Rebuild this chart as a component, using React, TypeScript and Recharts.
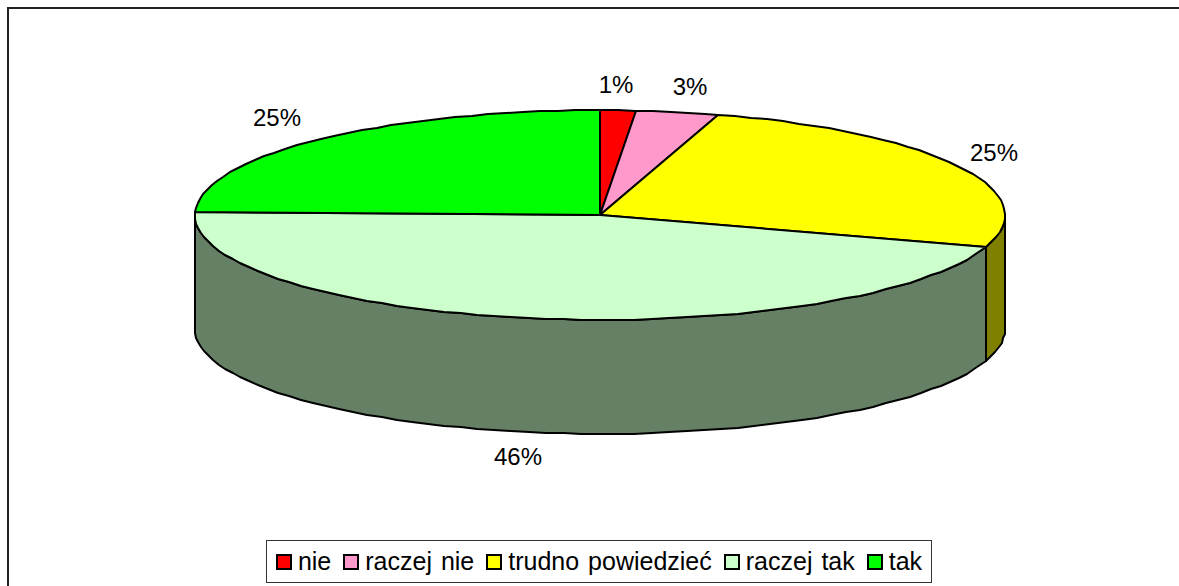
import React from 'react';
import { PieChart, Pie, Cell, Legend } from 'recharts';

const categories = ['nie', 'raczej nie', 'trudno powiedzieć', 'raczej tak', 'tak'];
const shares = [1.4, 3.3, 25.2, 45.52, 24.58];
const colors = ['#FF0000', '#FF99CC', '#FFFF00', '#CCFFCC', '#00FF00'];
const wallColors = ['#800000', '#804C66', '#808000', '#668066', '#008000'];

// label offset from the rim point of each slice (dx, dy)
const labelNudge = [
    [-2, -26],
    [13, -26],
    [35, -14],
    [-15, 138],
    [-40, -23],
];

const data = categories.map((name, i) => ({ name, value: shares[i] }));

const SQUASH = 0.259;
const DEPTH = 114;
const FONT = '"Liberation Sans", Arial, sans-serif';

const rimPoint = (cx: number, cy: number, r: number, deg: number) => {
    const a = (deg * Math.PI) / 180;
    return [Math.round(cx + r * Math.cos(a)), Math.round(cy - r * SQUASH * Math.sin(a))];
};

// angles run clockwise from startAngle to endAngle, sampled coarse so the rim looks faceted
const arcPoints = (cx: number, cy: number, r: number, from: number, to: number) => {
    const pts: number[][] = [];
    const step = 2.5;
    for (let a = from; a > to; a -= step) pts.push(rimPoint(cx, cy, r, a));
    pts.push(rimPoint(cx, cy, r, to));
    return pts;
};

const toPath = (pts: number[][]) => pts.map((p) => p.join(',')).join(' ');

const EllipseSlice = (props: any) => {
    const { cx, cy, outerRadius, startAngle, endAngle, fill, index } = props;
    const rim = arcPoints(cx, cy, outerRadius, startAngle, endAngle);

    // only the front half of the rim (math angles 0 to -180) has a visible wall
    const wallFrom = Math.min(startAngle, 0);
    const wallTo = Math.max(endAngle, -180);
    let wall = null;
    if (wallFrom > wallTo) {
        const top = arcPoints(cx, cy, outerRadius, wallFrom, wallTo);
        const bottom = top.map(([x, y]) => [x, y + DEPTH]).reverse();
        wall = (
            <polygon
                points={toPath([...top, ...bottom])}
                fill={wallColors[index]}
                stroke="#000"
                strokeWidth={2}
                strokeLinejoin="round"
            />
        );
    }

    return (
        <g>
            {wall}
            <polygon
                points={toPath([[cx, cy], ...rim])}
                fill={fill}
                stroke="#000"
                strokeWidth={2}
                strokeLinejoin="round"
            />
        </g>
    );
};

const renderLabel = (props: any) => {
    const { cx, cy, outerRadius, midAngle, percent, index } = props;
    const [x, y] = rimPoint(cx, cy, outerRadius, midAngle);
    const [dx, dy] = labelNudge[index];
    return (
        <text
            x={x + dx}
            y={y + dy}
            textAnchor="middle"
            dominantBaseline="central"
            fontFamily={FONT}
            fontSize={24}
            fill="#000"
        >
            {Math.round(percent * 100)}%
        </text>
    );
};

const renderLegend = () => (
    <div
        style={{
            display: 'flex',
            alignItems: 'center',
            justifyContent: 'center',
            boxSizing: 'border-box',
            height: 43,
            border: '1px solid #333',
            fontFamily: FONT,
            fontSize: 25,
            wordSpacing: 2,
            color: '#000',
            whiteSpace: 'nowrap',
        }}
    >
        {categories.map((name, i) => (
            <span key={name} style={{ display: 'flex', alignItems: 'center', marginLeft: i ? 12 : 0 }}>
                <span
                    style={{
                        display: 'inline-block',
                        boxSizing: 'border-box',
                        width: 16,
                        height: 16,
                        marginRight: 6,
                        background: colors[i],
                        border: '2px solid #000',
                    }}
                />
                {name}
            </span>
        ))}
    </div>
);

export default function App() {
    return (
        <div style={{ position: 'absolute', left: 0, top: 0, width: 1179, height: 586, overflow: 'hidden', background: '#fff' }}>
            <div
                style={{
                    position: 'absolute',
                    left: 7,
                    top: 7,
                    width: 1172,
                    height: 579,
                    borderTop: '2px solid #222',
                    borderLeft: '2px solid #222',
                }}
            />
            <PieChart width={1179} height={586} margin={{ top: 0, right: 0, bottom: 0, left: 0 }}>
                <Pie
                    data={data}
                    dataKey="value"
                    nameKey="name"
                    cx={600}
                    cy={215}
                    innerRadius={0}
                    outerRadius={405}
                    startAngle={90}
                    endAngle={-270}
                    paddingAngle={0}
                    shape={EllipseSlice}
                    label={renderLabel}
                    labelLine={false}
                    isAnimationActive={false}
                >
                    {data.map((d, i) => (
                        <Cell key={d.name} fill={colors[i]} />
                    ))}
                </Pie>
                <Legend content={renderLegend} wrapperStyle={{ left: 266, top: 540, width: 666 }} />
            </PieChart>
        </div>
    );
}
